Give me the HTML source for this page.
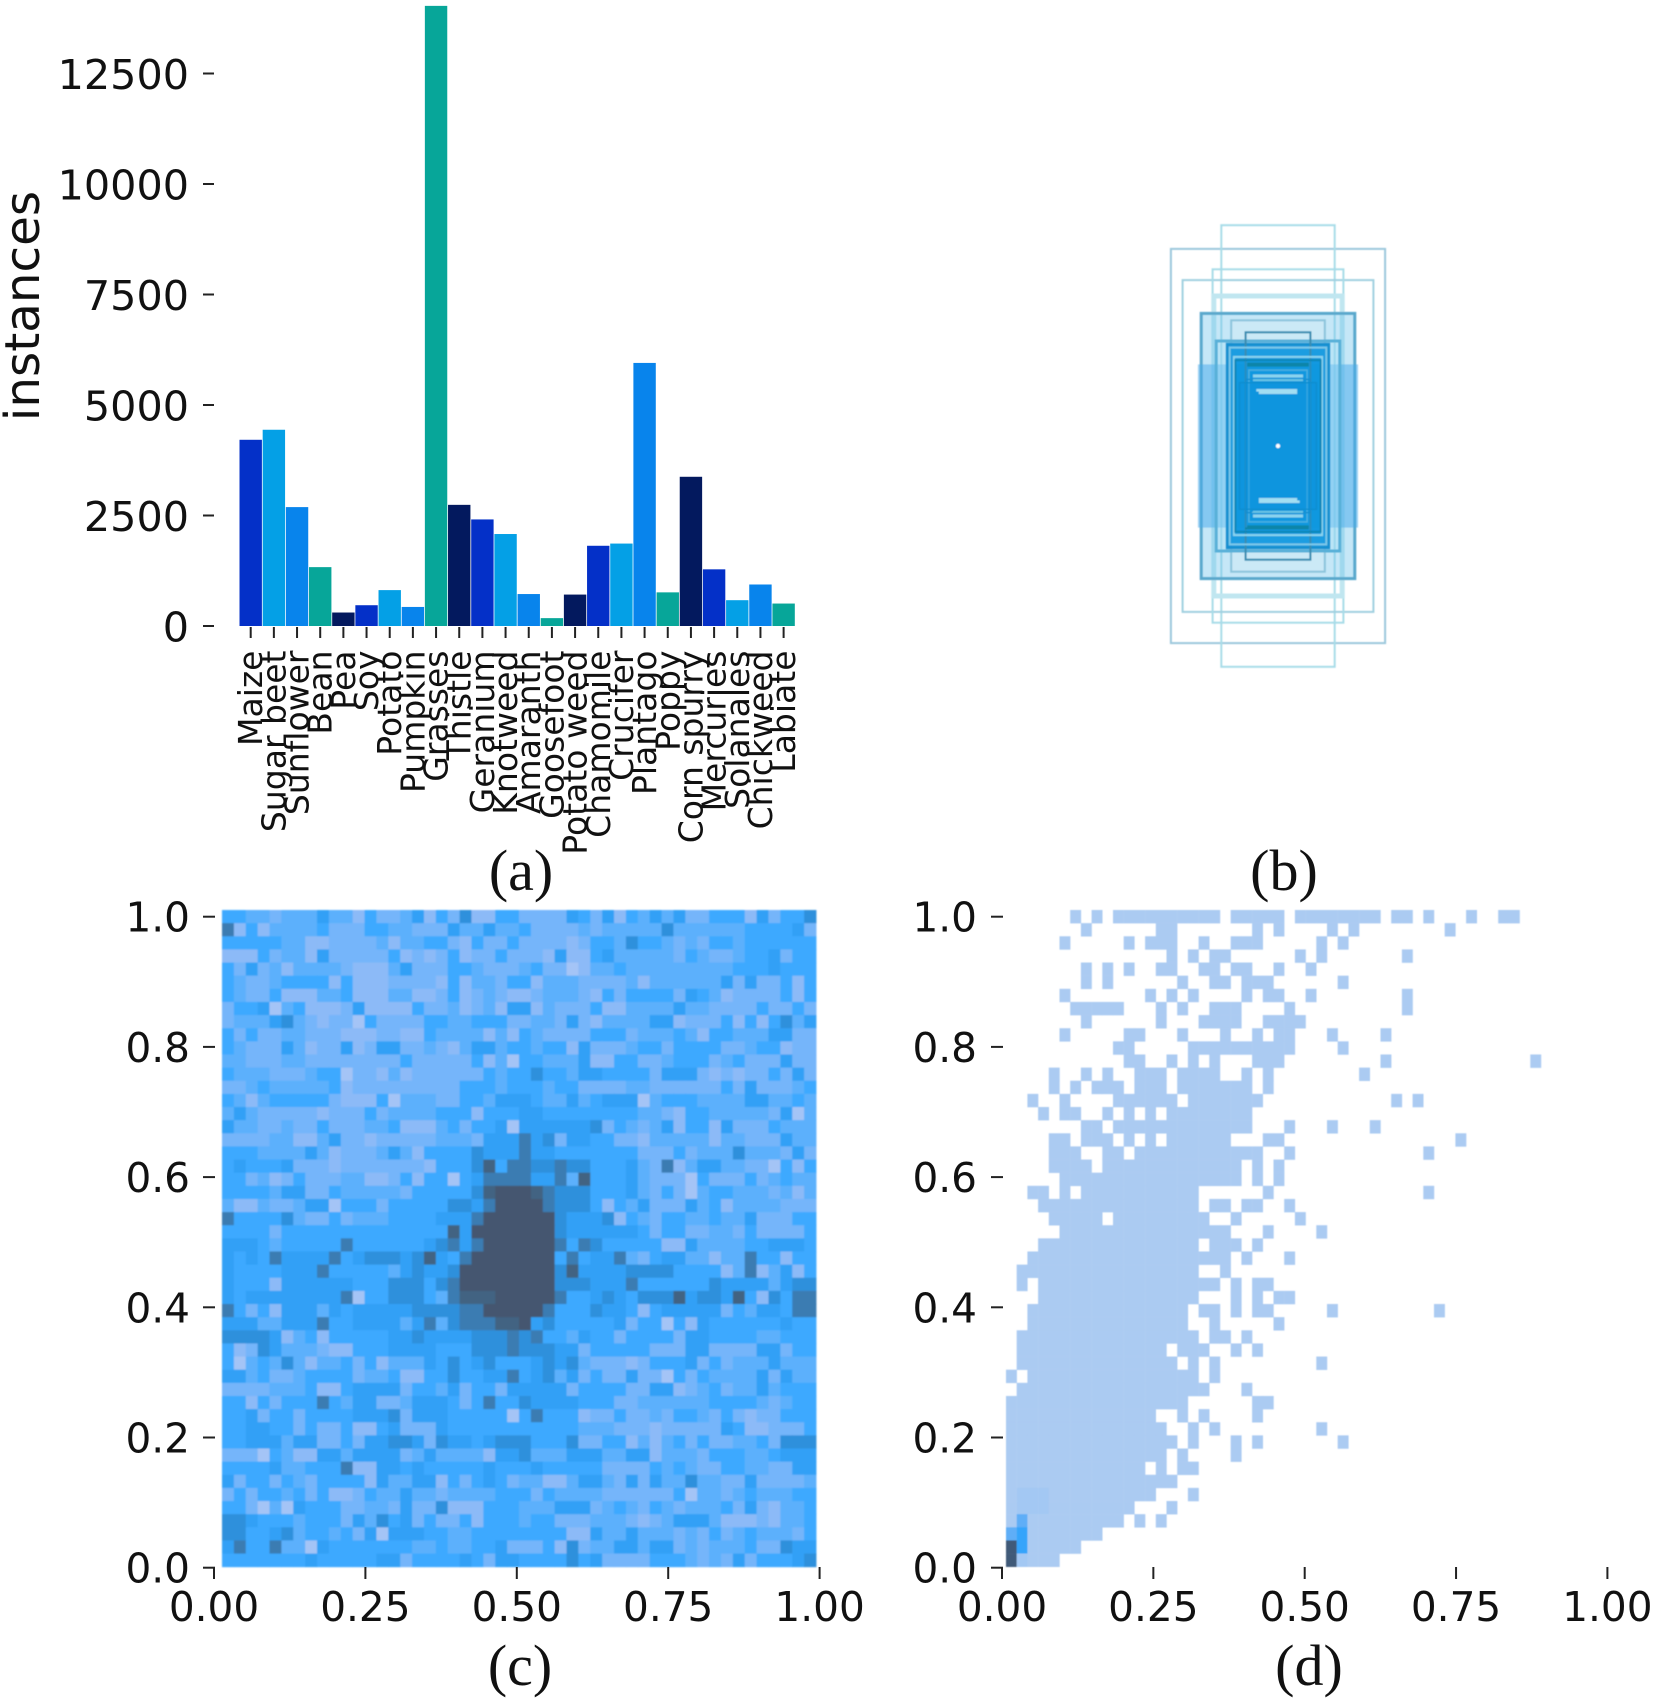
<!DOCTYPE html>
<html>
<head>
<meta charset="utf-8">
<title>Crop and weed dataset statistics</title>
<style>
html,body{margin:0;padding:0;background:#fff;}
svg{display:block;}
.tick{font-family:"DejaVu Sans",sans-serif;font-size:40.6px;fill:#111;}
.tick-a{font-family:"DejaVu Sans",sans-serif;font-size:41.3px;fill:#111;}
.cat{font-family:"DejaVu Sans",sans-serif;font-size:33px;fill:#111;}
.cap{font-family:"Liberation Serif",serif;font-size:58px;fill:#111;text-anchor:middle;}
</style>
</head>
<body>
<svg id="figure" xmlns="http://www.w3.org/2000/svg" width="1654" height="1698" viewBox="0 0 1654 1698">
<defs>
<filter id="soft" x="-2%" y="-2%" width="104%" height="104%"><feGaussianBlur stdDeviation="0.9"/></filter>
<filter id="softer" x="-2%" y="-2%" width="104%" height="104%"><feGaussianBlur stdDeviation="0.5"/></filter>
</defs>
<rect width="1654" height="1698" fill="#fff"/>
<g id="panelA"></g>
<g id="panelB" filter="url(#softer)"></g>
<g id="panelC"></g>
<g id="panelD"></g>
<text class="cap" x="521" y="890">(a)</text>
<text class="cap" x="1284" y="890">(b)</text>
<text class="cap" x="520" y="1685">(c)</text>
<text class="cap" x="1309" y="1685">(d)</text>
</svg>
<script>
// ---------- panel (a) data ----------
const categories = ["Maize","Sugar beet","Sunflower","Bean","Pea","Soy","Potato","Pumpkin","Grasses","Thistle","Geranium","Knotweed","Amaranth","Goosefoot","Potato weed","Chamomile","Crucifer","Plantago","Poppy","Corn spurry","Mercuries","Solanales","Chickweed","Labiate"];
const instances = [4213,4440,2690,1332,305,470,812,431,14030,2741,2411,2081,723,178,711,1815,1865,5952,761,3376,1282,584,939,508];
const instanceTicks = [0,2500,5000,7500,10000,12500];

// ---------- panel (b) data: box sizes, normalised ----------
const boxWidths  = [0.357,0.189,0.318,0.218,0.214,0.256,0.267,0.156,0.206,0.169,0.108,0.161,0.147,0.097,0.106,0.142,0.128];
const boxHeights = [0.657,0.736,0.553,0.589,0.500,0.442,0.272,0.419,0.350,0.339,0.379,0.328,0.297,0.253,0.222,0.286,0.211];

// ---------- panel (c) data: density level per cell, top row first ----------
const locationRows = [
"4433233353314223514261144"+"2222542514353522444152446",
"7141333342224433222533533"+"4222232333336333333444452",
"4444433112222313344214224"+"2222124436443232443444444",
"1114233152222241212412242"+"2215114533333243223445244",
"4252313333211135222443222"+"3422013343333333334445444",
"4322344441411122221413324"+"4133322223133333352522414",
"4322411133411133112412321"+"1233321424444254312222414",
"2445034111251111422312315"+"5132224113333533222242242",
"2333563212204222244334442"+"2332521333355122241414635",
"4242233222111221143333131"+"4322224442333431443335522",
"4322253122512552232135534"+"4344152223442444422344122",
"3322233222222224222224130"+"4433351144223444234222522",
"4333222344022131222222434"+"4644355444425552121224252",
"2234333334122222222244434"+"4434422223322222242522234",
"4313444442111403332244355"+"5433534555034443333553343",
"3532222212224233334441444"+"5544444444332144333332503",
"5332232242223341113424450"+"5555556243235144152224333",
"2222331135221222223332555"+"7562554422133333133222533",
"4443333531222353144446555"+"7554444444222423336333252",
"4544452221222222214446847"+"7667664445327135533220414",
"4423124222331124144045777"+"7557384445322204222423433",
"4444355224333332444446899"+"9876664445324203443332313",
"3113223550444244444665799"+"9976664143522253413333222",
"7444463224233344445557999"+"9996555614324433433522244",
"4444244444444444444859999"+"9996555555424422332422224",
"5554344444744444456757999"+"9997476444441153333445554",
"5454755557456665685479999"+"9994745573245533133744144",
"5444455574444435655699999"+"9996855556666444413713514",
"5444155555544466646799999"+"9996665557444444655553566",
"5455555555704466643788899"+"9997445654666856658416477",
"7424155535455555666677999"+"9974446554145555524355477",
"5553355574455553573677788"+"9564444452440415444444544",
"6666513414444455655556667"+"6744354424444255444433444",
"4126533321144455554446667"+"6665524444422255222255244",
"4034363133424133354645644"+"4565632221244452423335333",
"5534223444423341144644557"+"4563524225220424333352533",
"2222333411455552443524425"+"5555244442255123423353444",
"4414244474355223555424744"+"6555544422333333444432344",
"4452442444455562555444440"+"4744412242232443242122444",
"4455442422411452225444444"+"4444433322212222254112224",
"4455535522425566526554566"+"6444622441313424223342666",
"2220431155355552353333155"+"6333555335513332444334555",
"4444533444711554544444544"+"4544444222243432244332255",
"5244243244441533551424542"+"3311355325253363322522223",
"2424434241124335332333344"+"4243333222222403323433344",
"4420305444223325226111444"+"3335552343243233342521334",
"6654443444253645242241444"+"3442223332123555311121334",
"6644563443425055544334444"+"4444115335333232423433324",
"5744733054444444334334452"+"2241623355355232333422655",
"4444444544444552444454255"+"4444645222244432325244456"
];
const locationTicksY = [0,0.2,0.4,0.6,0.8,1.0];
const locationTicksX = [0,0.25,0.5,0.75,1.0];

// ---------- panel (d) data: density level per cell, top row first ----------
const sizeRows = [
"00000010101111111111"+"01111101111111101101"+"0001001100",
"00000001000000110000"+"00010100001010000000"+"0100000000",
"00000100000101110010"+"01110000010100000000"+"0000000000",
"00000000000000010101"+"10000001010000000100"+"0000000000",
"00000001010100110011"+"01100100100000000000"+"0000000000",
"00000001010000001001"+"10111000000100000000"+"0000000000",
"00000100000001010100"+"00101100100000000100"+"0000000000",
"00000011111000101001"+"11000010000000000100"+"0000000000",
"00000001000000100011"+"11001111000000000000"+"0000000000",
"00000100000110001000"+"10010110001000010000"+"0000000000",
"00000000001100000111"+"11111110000100000000"+"0000000000",
"00000000000110010101"+"00011100000000010000"+"0000000001",
"00001001010011101111"+"00101000000001000000"+"0000000000",
"00001010111011101111"+"11101000000000000000"+"0000000000",
"00100100001111110111"+"11110000000000001010"+"0000000000",
"00010110010101011111"+"11100000000000000000"+"0000000000",
"00000001101111111111"+"11100010001000100000"+"0000000000",
"00001101110101011111"+"10001100000000000000"+"0010000000",
"00001110011011111111"+"11110010000000000001"+"0000000000",
"00001111011111111111"+"11010100000000000000"+"0000000000",
"00000111111111111111"+"11010100000000000000"+"0000000000",
"00110101111111111100"+"00001000000000000001"+"0000000000",
"00011111111111111101"+"10110010000000000000"+"0000000000",
"00001111101111111110"+"01000001000000000000"+"0000000000",
"00000111111111111111"+"10001000010000000000"+"0000000000",
"00011111111111111101"+"11010000000000000000"+"0000000000",
"00111111111111111111"+"10100010000000000000"+"0000000000",
"01111111111111111100"+"10000000000000000000"+"0000000000",
"01011111111111111111"+"01011000000000000000"+"0000000000",
"00011111111111111100"+"01010110000000000000"+"0000000000",
"00111111111111111011"+"01011000001000000000"+"1000000000",
"00111111111111111001"+"00000100000000000000"+"0000000000",
"01111111111111111101"+"10100000000000000000"+"0000000000",
"01111111111111101110"+"01010000000000000000"+"0000000000",
"01111111111111110101"+"00000000010000000000"+"0000000000",
"10111111111111111101"+"00000000000000000000"+"0000000000",
"01111111111111111110"+"00100000000000000000"+"0000000000",
"11111111111111111000"+"00011000000000000000"+"0000000000",
"11111111111111001010"+"00010000000000000000"+"0000000000",
"11111111111111100101"+"00000000010000000000"+"0000000000",
"11111111111111110100"+"01010000000100000000"+"0000000000",
"11111111111111101000"+"01000000000000000000"+"0000000000",
"11111111111110101100"+"00000000000000000000"+"0000000000",
"11111111111111110000"+"00000000000000000000"+"0000000000",
"12221111111111000100"+"00000000000000000000"+"0000000000",
"12221111111100010000"+"00000000000000000000"+"0000000000",
"13111111111010100000"+"00000000000000000000"+"0000000000",
"34111111100000000000"+"00000000000000000000"+"0000000000",
"54111110000000000000"+"00000000000000000000"+"0000000000",
"52111000000000000000"+"00000000000000000000"+"0000000000"
];
const sizeTicksY = [0,0.2,0.4,0.6,0.8,1.0];
const sizeTicksX = [0,0.25,0.5,0.75,1.0];

// ---------- palettes and styles ----------
const barPalette = ["#0430c8","#04a0e6","#0884ec","#07a699","#03195e"];
const locationPalette = ["#a4c4f6","#8cbaf7","#74b5fa","#5cb0fc","#3ca9ff","#32a0f6","#2f90dc","#3a7cb2","#436482","#445670"];
const sizePalette = ["none","#abcbf2","#a3c8f3","#5eaef7","#34a4fb","#3f5a78"];
const boxStyle = [
 {f:"none",s:"#9cc8dc",w:2},{f:"none",s:"#a8dce8",w:2},{f:"none",s:"#a0d0e0",w:2},{f:"none",s:"#a8dce8",w:2},
 {f:"none",s:"#c0e6f0",w:5},
 {f:"rgba(110,195,235,.40)",s:"#5aa8cc",w:3},
 {f:"rgba(70,170,235,.50)",s:"none",w:0},
 {f:"rgba(210,235,245,.50)",s:"#8cc4dc",w:2},
 {f:"rgba(170,225,245,.35)",s:"#58b0d8",w:3},
 {f:"rgba(0,145,222,.85)",s:"#1890d0",w:3},
 {f:"none",s:"#3a8cb0",w:2},
 {f:"none",s:"#7cc8e8",w:2},
 {f:"none",s:"#8ad4ee",w:2},
 {f:"none",s:"#70c0e4",w:1.5},
 {f:"none",s:"#1a8cc8",w:1.5},
 {f:"rgba(10,145,220,.35)",s:"#0a86b8",w:2},
 {f:"rgba(10,145,220,.35)",s:"#0c8ed0",w:1.5}
];

const NS = "http://www.w3.org/2000/svg";
function add(parent, tag, attrs, text){
  const el = document.createElementNS(NS, tag);
  for (const k in attrs) el.setAttribute(k, attrs[k]);
  if (text !== undefined) el.textContent = text;
  parent.appendChild(el);
  return el;
}
const panelA = document.getElementById("panelA");
const panelB = document.getElementById("panelB");
const panelC = document.getElementById("panelC");
const panelD = document.getElementById("panelD");

// ---------- panel (a) ----------
const aX = i => 250.7 + i * 23.17;
const aY = v => 626 - v * 0.0442;
categories.forEach((name, i) => {
  const bar = add(panelA, "rect", {x: aX(i) - 11.2, y: aY(instances[i]), width: 22.4, height: aY(0) - aY(instances[i]), fill: barPalette[i % 5]});
  
  
  const tick = add(panelA, "line", {x1: aX(i), x2: aX(i), y1: 627, y2: 638, stroke: "#222", "stroke-width": 2});
  
  
  const label = add(panelA, "text", {class: "cat", transform: "translate(" + (aX(i) + 11.5) + ",650.5) rotate(-90)", "text-anchor": "end"}, name);
  
  
});
instanceTicks.forEach(v => {
  const tick = add(panelA, "line", {x1: 203, x2: 214, y1: aY(v), y2: aY(v), stroke: "#222", "stroke-width": 2});
  
  
  const label = add(panelA, "text", {class: "tick-a", x: 189, y: aY(v) + 15.5, "text-anchor": "end"}, String(v));
  
  
});
const yTitle = add(panelA, "text", {transform: "translate(39,306) rotate(-90)", "text-anchor": "middle", "font-family": '"DejaVu Sans",sans-serif', "font-size": 48.4, fill: "#111"}, "instances");



// ---------- panel (b) ----------
const bCx = 1278, bCy = 446, bScale = 600;
boxWidths.forEach((bw, i) => {
  const w = bw * bScale, h = boxHeights[i] * bScale, st = boxStyle[i];
  const box = add(panelB, "rect", {x: bCx - w / 2, y: bCy - h / 2, width: w, height: h, fill: st.f, stroke: st.s, "stroke-width": st.w});
  
  
});
[[115, 327, "#a2def2", 5], [185, 488, "#0a85a8", 4], [150, 420, "#8ad4ee", 3], [150, 395, "#6cc6e6", 2]].forEach(b => {
  const w = b[0] / 3, h = b[1] / 3;
  const band = add(panelB, "rect", {x: bCx - w / 2, y: bCy - h / 2, width: w, height: h, fill: "none", stroke: b[2], "stroke-width": b[3], "stroke-dasharray": w + " " + h});
  
  
});
const centre = add(panelB, "circle", {cx: bCx, cy: bCy, r: 2.2, fill: "#fff"});



// ---------- panel (c) ----------
const cCellX = i => 222 + i * 11.88;
const cCellY = j => 910 + j * 13.134;
const cTickX = v => 214 + v * 605.6;
const cTickY = v => 1567.7 - v * 651;
const cGrid = add(panelC, "g", {filter: "url(#soft)"});


locationRows.forEach((row, j) => {
  for (let i = 0; i < row.length; i++) {
    const cell = add(cGrid, "rect", {x: cCellX(i), y: cCellY(j), width: 12.3, height: 13.6, fill: locationPalette[+row[i]]});
    
    
  }
});
locationTicksY.forEach(v => {
  const tick = add(panelC, "line", {x1: 203, x2: 215, y1: cTickY(v), y2: cTickY(v), stroke: "#222", "stroke-width": 2});
  
  
  const label = add(panelC, "text", {class: "tick", x: 190, y: cTickY(v) + 15, "text-anchor": "end"}, v.toFixed(1));
  
  
});
locationTicksX.forEach(v => {
  const tick = add(panelC, "line", {x1: cTickX(v), x2: cTickX(v), y1: 1567, y2: 1579, stroke: "#222", "stroke-width": 2});
  
  
  const label = add(panelC, "text", {class: "tick", x: cTickX(v), y: 1621, "text-anchor": "middle"}, v.toFixed(2));
  
  
});

// ---------- panel (d) ----------
const dCellX = i => 1006 + i * 10.7;
const dCellY = j => 910 + j * 13.134;
const dTickX = v => 1002 + v * 605.4;
const dTickY = v => 1567.7 - v * 651;
const dGrid = add(panelD, "g", {filter: "url(#softer)"});


sizeRows.forEach((row, j) => {
  for (let i = 0; i < row.length; i++) {
    if (row[i] === "0") continue;
    const cell = add(dGrid, "rect", {x: dCellX(i), y: dCellY(j), width: 10.9, height: 13.4, fill: sizePalette[+row[i]]});
    
    
  }
});
sizeTicksY.forEach(v => {
  const tick = add(panelD, "line", {x1: 991, x2: 1003, y1: dTickY(v), y2: dTickY(v), stroke: "#222", "stroke-width": 2});
  
  
  const label = add(panelD, "text", {class: "tick", x: 977, y: dTickY(v) + 15, "text-anchor": "end"}, v.toFixed(1));
  
  
});
sizeTicksX.forEach(v => {
  const tick = add(panelD, "line", {x1: dTickX(v), x2: dTickX(v), y1: 1567, y2: 1579, stroke: "#222", "stroke-width": 2});
  
  
  const label = add(panelD, "text", {class: "tick", x: dTickX(v), y: 1621, "text-anchor": "middle"}, v.toFixed(2));
  
  
});
</script>
</body>
</html>
